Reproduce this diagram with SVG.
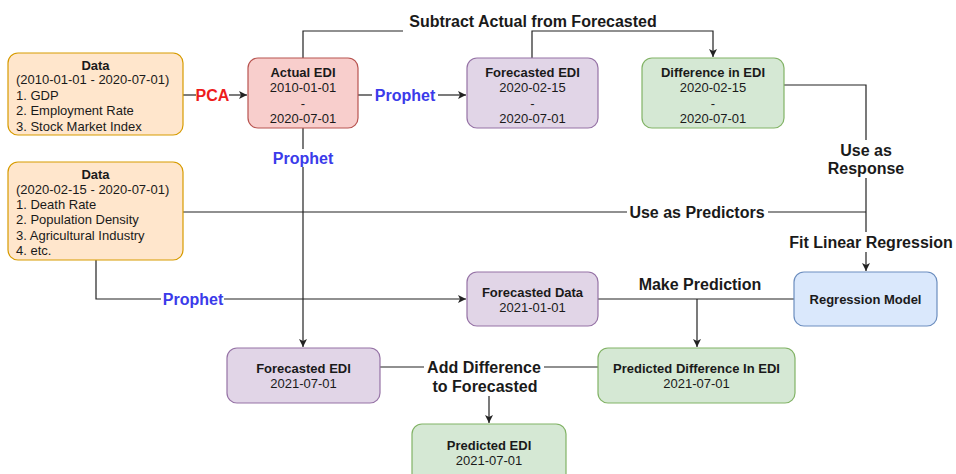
<svg xmlns="http://www.w3.org/2000/svg" width="956" height="474" viewBox="0 0 956 474">
<style>
.box{stroke-width:1.2}
.orange{fill:#ffe6cc;stroke:#d79b00}
.red{fill:#f8cecc;stroke:#b85450}
.purple{fill:#e1d5e7;stroke:#9673a6}
.green{fill:#d5e8d4;stroke:#82b366}
.blue{fill:#dae8fc;stroke:#6c8ebf}
text{font-family:"Liberation Sans",Arial,sans-serif;fill:#1a1a1a}
.t{font-size:13px;text-anchor:middle}
.tl{font-size:13px}
.b{font-weight:bold}
.lbl{font-size:16px;font-weight:bold;text-anchor:middle}
.pca{fill:#ee1c1c}
.pro{fill:#3b3bea}
.edge{fill:none;stroke:#222;stroke-width:1.2}
</style>
<defs>
<marker id="arr" markerUnits="userSpaceOnUse" markerWidth="10" markerHeight="10" refX="8" refY="4" orient="auto">
<path d="M0,0 L8,4 L0,8 L2,4 z" fill="#222"/>
</marker>
</defs>
<rect width="956" height="474" fill="#ffffff"/>

<g id="connectors">
<path class="edge" d="M183,95 H196"/>
<path class="edge" d="M229,95 H247" marker-end="url(#arr)"/>
<path class="edge" d="M358,95 H372"/>
<path class="edge" d="M438,95 H466" marker-end="url(#arr)"/>
<path class="edge" d="M303,58 V31 H403"/>
<path class="edge" d="M532,58 V31 H713 V57" marker-end="url(#arr)"/>
<path class="edge" d="M303,128 V149"/>
<path class="edge" d="M303,167 V347" marker-end="url(#arr)"/>
<path class="edge" d="M784,85 H866 V140"/>
<path class="edge" d="M866,178 V232"/>
<path class="edge" d="M866,252 V271" marker-end="url(#arr)"/>
<path class="edge" d="M183,212 H627"/>
<path class="edge" d="M768,212 H866"/>
<path class="edge" d="M96,260 V299 H161"/>
<path class="edge" d="M224,299 H466" marker-end="url(#arr)"/>
<path class="edge" d="M598,299 H794"/>
<path class="edge" d="M697,299 V347" marker-end="url(#arr)"/>
<path class="edge" d="M380,367 H424"/>
<path class="edge" d="M544,367 H598"/>
<path class="edge" d="M489,396 V423" marker-end="url(#arr)"/>
</g>

<g id="edge-labels">
<text class="lbl pca" x="212.5" y="101">PCA</text>
<text class="lbl pro" x="405" y="101">Prophet</text>
<text class="lbl" x="533" y="27">Subtract Actual from Forecasted</text>
<text class="lbl pro" x="303" y="164">Prophet</text>
<text class="lbl" x="866" y="156">Use as</text>
<text class="lbl" x="866" y="174">Response</text>
<text class="lbl" x="697" y="218">Use as Predictors</text>
<text class="lbl" x="871" y="248">Fit Linear Regression</text>
<text class="lbl pro" x="193" y="305">Prophet</text>
<text class="lbl" x="700" y="290">Make Prediction</text>
<text class="lbl" x="484" y="373">Add Difference</text>
<text class="lbl" x="485" y="392">to Forecasted</text>
</g>

<g id="data1">
<rect class="box orange" x="8" y="53" width="175" height="82" rx="10"/>
<text class="t b" x="95.5" y="69.5">Data</text>
<text class="tl" x="16" y="84">(2010-01-01 - 2020-07-01)</text>
<text class="tl" x="16" y="99.5">1. GDP</text>
<text class="tl" x="16" y="115">2. Employment Rate</text>
<text class="tl" x="16" y="130.5">3. Stock Market Index</text>
</g>

<g id="actual-edi">
<rect class="box red" x="248" y="58" width="110" height="70" rx="10"/>
<text class="t b" x="303" y="76.5">Actual EDI</text>
<text class="t" x="303" y="92">2010-01-01</text>
<text class="t" x="303" y="107.5">-</text>
<text class="t" x="303" y="123">2020-07-01</text>
</g>

<g id="forecasted-edi-1">
<rect class="box purple" x="467" y="58" width="131" height="70" rx="10"/>
<text class="t b" x="532.5" y="76.5">Forecasted EDI</text>
<text class="t" x="532.5" y="92">2020-02-15</text>
<text class="t" x="532.5" y="107.5">-</text>
<text class="t" x="532.5" y="123">2020-07-01</text>
</g>

<g id="difference-edi">
<rect class="box green" x="642" y="58" width="142" height="70" rx="10"/>
<text class="t b" x="713" y="76.5">Difference in EDI</text>
<text class="t" x="713" y="92">2020-02-15</text>
<text class="t" x="713" y="107.5">-</text>
<text class="t" x="713" y="123">2020-07-01</text>
</g>

<g id="data2">
<rect class="box orange" x="8" y="162" width="175" height="98" rx="10"/>
<text class="t b" x="95.5" y="178.5">Data</text>
<text class="tl" x="16" y="193.5">(2020-02-15 - 2020-07-01)</text>
<text class="tl" x="16" y="208.5">1. Death Rate</text>
<text class="tl" x="16" y="224">2. Population Density</text>
<text class="tl" x="16" y="239.5">3. Agricultural Industry</text>
<text class="tl" x="16" y="255">4. etc.</text>
</g>

<g id="forecasted-data">
<rect class="box purple" x="467" y="272" width="131" height="54" rx="10"/>
<text class="t b" x="532.5" y="296.5">Forecasted Data</text>
<text class="t" x="532.5" y="311.5">2021-01-01</text>
</g>

<g id="regression-model">
<rect class="box blue" x="794" y="272" width="143" height="54" rx="10"/>
<text class="t b" x="865.5" y="304">Regression Model</text>
</g>

<g id="forecasted-edi-2">
<rect class="box purple" x="227" y="348" width="153" height="55" rx="10"/>
<text class="t b" x="303.5" y="372.5">Forecasted EDI</text>
<text class="t" x="303.5" y="388">2021-07-01</text>
</g>

<g id="predicted-difference">
<rect class="box green" x="598" y="348" width="197" height="55" rx="10"/>
<text class="t b" x="696.5" y="372.5">Predicted Difference In EDI</text>
<text class="t" x="696.5" y="388">2021-07-01</text>
</g>

<g id="predicted-edi">
<rect class="box green" x="412" y="424" width="154" height="60" rx="10"/>
<text class="t b" x="489" y="449.5">Predicted EDI</text>
<text class="t" x="489" y="464.5">2021-07-01</text>
</g>
</svg>
